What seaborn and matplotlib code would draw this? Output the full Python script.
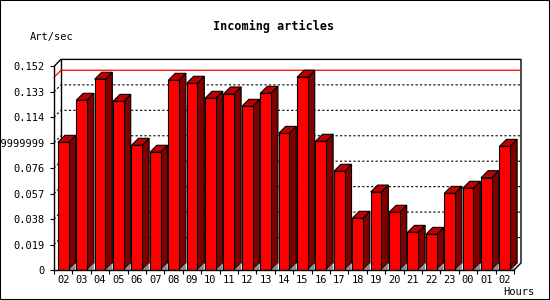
import numpy as np
import pandas as pd
import matplotlib
matplotlib.use('Agg')
import matplotlib.pyplot as plt
import seaborn as sns
from matplotlib.patches import Polygon, Rectangle
from matplotlib.lines import Line2D

# --- data ---
hours = ['02', '03', '04', '05', '06', '07', '08', '09', '10', '11', '12', '13',
         '14', '15', '16', '17', '18', '19', '20', '21', '22', '23', '00', '01', '02']
art_per_sec = [0.0953, 0.1267, 0.1424, 0.1259, 0.0931, 0.0879, 0.1416, 0.1394,
               0.1282, 0.1314, 0.1222, 0.1319, 0.1020, 0.1439, 0.0961, 0.0737,
               0.0386, 0.0582, 0.0431, 0.0281, 0.0266, 0.0572, 0.0610, 0.0689,
               0.0923]
ytick_vals = [0, 0.019, 0.038, 0.057, 0.076, 0.095, 0.114, 0.133, 0.152]
ytick_labels = ['0', '0.019', '0.038', '0.057', '0.076', '0.09499999999',
                '0.114', '0.133', '0.152']

df = pd.DataFrame({'slot': np.arange(len(hours)), 'value': art_per_sec})

sns.set_style('white')
plt.rcParams['font.family'] = ['DejaVu Sans Mono', 'DejaVu Sans']
plt.rcParams['text.color'] = 'black'
plt.rcParams['xtick.color'] = 'black'
plt.rcParams['ytick.color'] = 'black'
plt.rcParams['axes.labelcolor'] = 'black'

W, H = 550, 300
fig = plt.figure(figsize=(W / 100, H / 100), dpi=100)
ax_l, ax_b, ax_w, ax_h = 54, 30, 460, 203.6   # pixels
ax = fig.add_axes([ax_l / W, ax_b / H, ax_w / W, ax_h / H])

sns.barplot(data=df, x='slot', y='value', color='#ff0000', saturation=1,
            width=0.58, edgecolor='black', linewidth=0.8, ax=ax, zorder=3)

n = len(hours)
ax.set_xlim(-0.5, n - 0.5)
ax.set_ylim(0, 0.152)

# 3D offset in data units (about 7 px)
dx = 7 * (n / ax_w)
dy = 7 * (0.152 / ax_h)
x0, x1 = -0.5, n - 0.5

# side/top faces and the floor shadows
for p, v in zip(ax.patches, art_per_sec):
    xl = p.get_x()
    xr = xl + p.get_width()
    side = Polygon([(xr, 0), (xr, v), (xr + dx, v + dy), (xr + dx, dy)],
                   closed=True, facecolor='#800000', edgecolor='black',
                   lw=0.8, zorder=2.9, clip_on=False)
    top = Polygon([(xl, v), (xr, v), (xr + dx, v + dy), (xl + dx, v + dy)],
                  closed=True, facecolor='#c00000', edgecolor='black',
                  lw=0.8, zorder=2.9, clip_on=False)
    shadow = Polygon([(xr, 0), (xr + dx, dy), (xr + dx, 0)], closed=True,
                     facecolor='#909090', edgecolor='none', zorder=2.95)
    ax.add_patch(side)
    ax.add_patch(top)
    ax.add_patch(shadow)

# dashed grid on the back plane
for v in ytick_vals[1:-1]:
    ax.add_line(Line2D([x0, x0 + dx, x1 + dx], [v, v + dy, v + dy],
                       color='black', lw=0.8, ls=(0, (2, 2)), zorder=1,
                       clip_on=False))

# red line at the maximum
vmax = max(art_per_sec)
ax.add_line(Line2D([x0, x0 + dx, x1 + dx], [vmax, vmax + dy, vmax + dy],
                   color='#ff0000', lw=0.9, zorder=1.5, clip_on=False))

# back plane frame
ax.add_line(Line2D([x0, x0 + dx, x1 + dx, x1 + dx, x1],
                   [0.152, 0.152 + dy, 0.152 + dy, dy, 0],
                   color='black', lw=1, zorder=1, clip_on=False))
ax.add_line(Line2D([x0 + dx, x0 + dx], [dy, 0.152 + dy],
                   color='black', lw=1, zorder=1, clip_on=False))

# axes styling
for s in ['top', 'right']:
    ax.spines[s].set_visible(False)
for s in ['left', 'bottom']:
    ax.spines[s].set_color('black')
    ax.spines[s].set_linewidth(1)
    ax.spines[s].set_zorder(4)

ax.set_yticks(ytick_vals, ytick_labels)
ax.tick_params(axis='y', direction='out', length=3, width=0.8, pad=3.5,
               labelsize=7.5, colors='black', left=True)
ax.set_xticks(np.arange(n), hours)
ax.tick_params(axis='x', which='major', length=0, pad=3.5, labelsize=7.5,
               colors='black')
ax.set_xticks(np.arange(-0.5, n, 1), minor=True)
ax.tick_params(axis='x', which='minor', direction='out', length=3, width=0.8,
               bottom=True, colors='black')
ax.set_xlabel('')
ax.set_ylabel('')

fig.text(274 / W, 1 - 26 / H, 'Incoming articles', ha='center', va='center',
         fontsize=8.5, fontweight='bold', color='black')
fig.text(30 / W, 1 - 37 / H, 'Art/sec', ha='left', va='center', fontsize=7.5,
         color='black')
fig.text(534 / W, 1 - 292 / H, 'Hours', ha='right', va='center', fontsize=7.5,
         color='black')

# image border
fig.patches.append(Rectangle((0, 0), 1, 1, transform=fig.transFigure,
                             fill=False, edgecolor='black', lw=1.5))

fig.savefig('out.png', dpi=100)
